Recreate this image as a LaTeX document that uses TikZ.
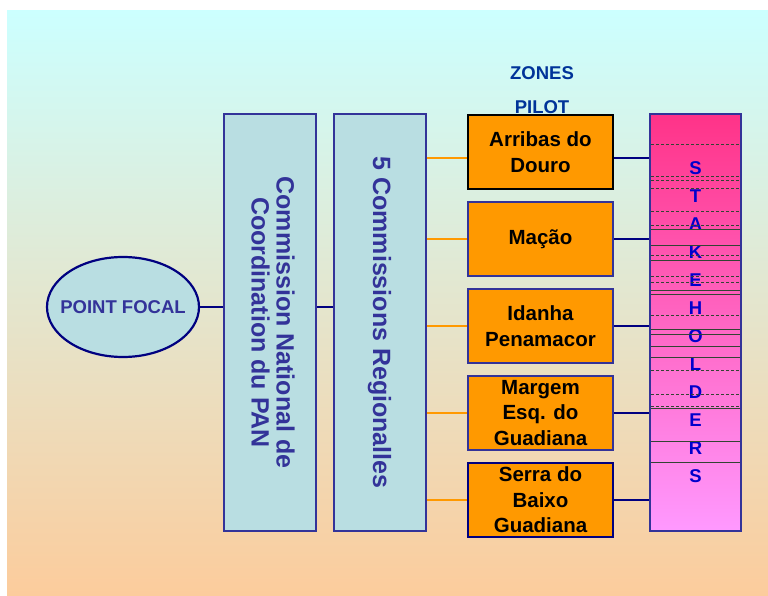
\documentclass[tikz,border=0pt]{standalone}
\usepackage{fontspec}
\usepackage{graphicx}
\setmainfont{Liberation Sans}
\usetikzlibrary{shapes.geometric}
\definecolor{bgtop}{HTML}{CCFFFF}
\definecolor{bgbot}{HTML}{FCCC9C}
\definecolor{boxblue}{HTML}{B9DEE2}
\definecolor{edge}{HTML}{333399}
\definecolor{navy}{HTML}{000080}
\definecolor{orng}{HTML}{FF9900}
\definecolor{pinktop}{HTML}{FF3388}
\definecolor{pinkbot}{HTML}{FF99FF}
\definecolor{txtblue}{HTML}{333399}
\definecolor{zoneblue}{HTML}{003399}
\definecolor{stkblue}{HTML}{0000CC}
\definecolor{rule}{HTML}{334433}
\begin{document}
\begin{tikzpicture}[x=1pt,y=-1pt,
  bluebox/.style={draw=edge, line width=2pt, fill=boxblue, minimum width=92pt,
    minimum height=417pt, inner sep=0pt, text=txtblue,
    font=\bfseries\fontsize{25}{30}\selectfont},
  zonebox/.style={draw=edge, line width=2.2pt, fill=orng, minimum width=145pt,
    minimum height=74pt, inner sep=0pt, align=center,
    font=\bfseries\fontsize{20.5}{25.5}\selectfont},
  stkbox/.style={draw=edge, line width=2pt, top color=pinktop, bottom color=pinkbot,
    minimum width=91pt, minimum height=417pt, inner sep=0pt, align=center,
    text=stkblue, font=\bfseries\fontsize{18.5}{28}\selectfont},
  focal/.style={ellipse, draw=navy, line width=2.2pt, fill=boxblue, minimum width=152pt,
    minimum height=100pt, inner sep=0pt, text=txtblue,
    font=\bfseries\fontsize{18.5}{22}\selectfont},
  hdr/.style={align=center, text=zoneblue, font=\bfseries\fontsize{18.5}{34}\selectfont},
  orline/.style={draw=orng, line width=2.2pt},
  nvline/.style={draw=navy, line width=2.2pt},
  dl/.style={draw=rule, line width=0.5pt, densely dashed},
  sl/.style={draw=rule, line width=0.5pt}
]
\useasboundingbox (0,0) rectangle (768,596);
\fill[white] (0,0) rectangle (768,596);
\shade[top color=bgtop, bottom color=bgbot] (7,11) rectangle (768,596);

\node[hdr] (zp) at (542,90) {ZONES\\PILOT};

\node[focal] (pf) at (123,307) {\makebox[0pt]{POINT FOCAL}};
\node[bluebox] (cn) at (270,322.5) {\rotatebox{-90}{\begin{tabular}{@{}c@{}}Commission National de\\[-5pt]Coordination du PAN\end{tabular}}};
\node[bluebox] (cr) at (379.5,322.5) {\rotatebox{-90}{5 Commissions Regionalles}};

\node[zonebox, draw=black] (z1) at (540.5,152) {Arribas do\\Douro};
\node[zonebox] (z2) at (540.5,239) {Mação};
\node[zonebox] (z3) at (540.5,326) {Idanha\\Penamacor};
\node[zonebox] (z4) at (540.5,413) {Margem\\Esq. do\\Guadiana};
\node[zonebox, draw=navy] (z5) at (540.5,500) {Serra do\\Baixo\\Guadiana};

\node[stkbox] (st) at (695.5,322.5) {S\\T\\A\\K\\E\\H\\O\\L\\D\\E\\R\\S};

\foreach \yy in {144,176,180,188,211,225,255,276,282,315,370,394,406}
  \draw[dl] (651,\yy) -- (740,\yy);
\foreach \yy in {229,245,260,290,294,329,334,346,357,408,441,462}
  \draw[sl] (651,\yy) -- (740,\yy);

\draw[nvline] (pf.east) -- (pf.east -| cn.west);
\draw[nvline] (cn.east |- pf.east) -- (cr.west |- pf.east);

\draw[orline] (cr.east |- 0,158) -- (z1.west |- 0,158);
\foreach \z in {z2,z3,z4,z5}
  \draw[orline] (cr.east |- \z.west) -- (\z.west);

\draw[nvline] (z1.east |- 0,158) -- (st.west |- 0,158);
\foreach \z in {z2,z3,z4,z5}
  \draw[nvline] (\z.east) -- (\z.east -| st.west);
\end{tikzpicture}
\end{document}
